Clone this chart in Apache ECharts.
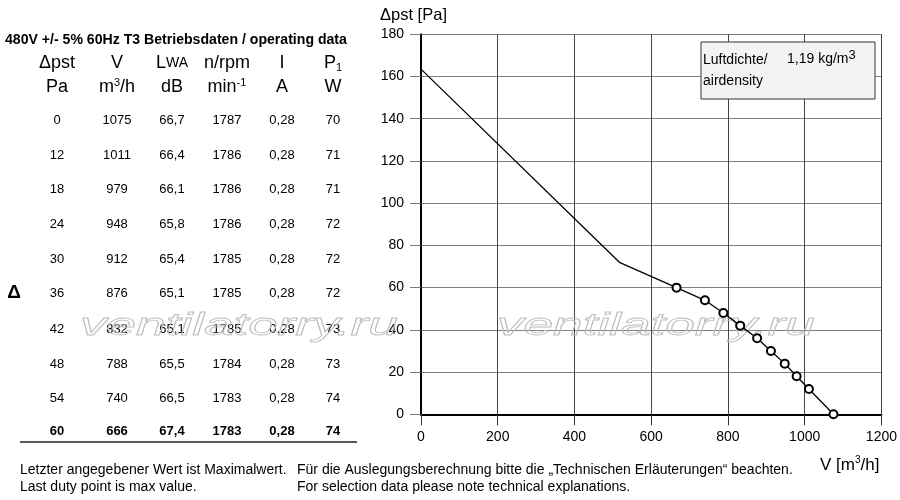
<!DOCTYPE html>
<html>
<head>
<meta charset="utf-8">
<script src="https://cdn.jsdelivr.net/npm/echarts@6/dist/echarts.min.js"></script>
<style>
  html, body { margin: 0; padding: 0; background: #fff; }
  #main { width: 900px; height: 500px; }
</style>
</head>
<body>
<div id="main"></div>
<script>
// operating data table (one entry per duty point)
let pressure = [0, 12, 18, 24, 30, 36, 42, 48, 54, 60];
let flow = [1075, 1011, 979, 948, 912, 876, 832, 788, 740, 666];
let lwa = ['66,7', '66,4', '66,1', '65,8', '65,4', '65,1', '65,1', '65,5', '66,5', '67,4'];
let rpm = [1787, 1786, 1786, 1786, 1785, 1785, 1785, 1784, 1783, 1783];
let current = ['0,28', '0,28', '0,28', '0,28', '0,28', '0,28', '0,28', '0,28', '0,28', '0,28'];
let power = [70, 71, 71, 72, 72, 72, 73, 73, 74, 74];

// curve part left of the last duty point (no markers)
let headFlow = [0, 517];
let headPressure = [163.5, 72];

let xTicks = [0, 200, 400, 600, 800, 1000, 1200];
let yTicks = [0, 20, 40, 60, 80, 100, 120, 140, 160, 180];

let font = 'Liberation Sans, Arial, sans-serif';
let chart = echarts.init(document.getElementById('main'));

let curve = [];
for (let i = 0; i < headFlow.length; i++) {
  curve.push({ value: [headFlow[i], headPressure[i]], symbol: 'none' });
}
for (let i = flow.length - 1; i >= 0; i--) {
  curve.push({ value: [flow[i], pressure[i]] });
}

// table text
let colX = [57, 117, 172, 227, 282, 333];
let rowY = [120, 155, 189, 224, 259, 293, 329, 364, 398, 431];
let graphics = [];

function txt(x, y, text, size, extra) {
  let el = {
    type: 'text',
    x: x,
    y: y,
    style: Object.assign({
      text: text,
      font: size + 'px ' + font,
      fill: '#000',
      align: 'center',
      verticalAlign: 'middle'
    }, extra || {})
  };
  graphics.push(el);
  return el;
}

txt(5, 40, '480V +/- 5% 60Hz T3 Betriebsdaten / operating data', 14.1, { align: 'left', font: 'bold 14.1px ' + font });

let head1 = ['Δpst', 'V', '{a|L}{b|WA}', 'n/rpm', 'I', '{a|P}{s|1}'];
let head2 = ['Pa', '{a|m}{p|3}{a|/h}', 'dB', '{a|min}{p|-1}', 'A', 'W'];
let rich = {
  a: { fontSize: 18, fontFamily: font },
  b: { fontSize: 14, fontFamily: font },
  s: { fontSize: 11, fontFamily: font, padding: [9, 0, 0, 0] },
  p: { fontSize: 11, fontFamily: font, padding: [0, 0, 9, 0] }
};
for (let c = 0; c < colX.length; c++) {
  txt(colX[c], 63, head1[c], 18, { rich: rich });
  txt(colX[c], 87, head2[c], 18, { rich: rich });
}

let cols = [pressure, flow, lwa, rpm, current, power];
for (let r = 0; r < pressure.length; r++) {
  let last = r === pressure.length - 1;
  for (let c = 0; c < cols.length; c++) {
    txt(colX[c], rowY[r], String(cols[c][r]), 13,
      last ? { font: 'bold 13px ' + font } : {});
  }
}
txt(14, 293, 'Δ', 19, { font: 'bold 19px ' + font });

graphics.push({
  type: 'line',
  shape: { x1: 20, y1: 442, x2: 357, y2: 442 },
  style: { stroke: '#222', lineWidth: 1.5 }
});

// footer notes
txt(20, 470, 'Letzter angegebener Wert ist Maximalwert.', 14, { align: 'left' });
txt(20, 487, 'Last duty point is max value.', 14, { align: 'left' });
txt(297, 470, 'Für die Auslegungsberechnung bitte die „Technischen Erläuterungen“ beachten.', 14, { align: 'left' });
txt(297, 487, 'For selection data please note technical explanations.', 14, { align: 'left' });

// axis names
txt(380, 15, 'Δpst [Pa]', 16.5, { align: 'left' });
txt(820, 465, '{a|V [m}{p|3}{a|/h]}', 17, {
  align: 'left',
  rich: {
    a: { fontSize: 17, fontFamily: font },
    p: { fontSize: 10, fontFamily: font, padding: [0, 0, 9, 0] }
  }
});

// air density box
graphics.push({
  type: 'rect',
  shape: { x: 701, y: 42, width: 174, height: 57 },
  style: { fill: '#f3f3f3', stroke: '#333', lineWidth: 1 },
  z: 50
});
let boxText = [
  txt(703, 60, 'Luftdichte/', 14, { align: 'left' }),
  txt(787, 59, '{a|1,19 kg/m}{p|3}', 14, {
    align: 'left',
    rich: {
      a: { fontSize: 14, fontFamily: font },
      p: { fontSize: 13, fontFamily: font, padding: [0, 0, 8, 0] }
    }
  }),
  txt(703, 81, 'airdensity', 14, { align: 'left' })
];
boxText.forEach(function (el) { el.z = 51; });

// watermark
[[80, 326], [497, 326]].forEach(function (p) {
  graphics.push({
    type: 'text',
    x: p[0],
    y: p[1],
    scaleX: 1.66,
    z: 1,
    style: {
      text: 'ventilatorry.ru',
      font: 'italic 32px ' + font,
      fill: 'rgba(255,255,255,0)',
      stroke: '#bdbdbd',
      lineWidth: 0.8,
      verticalAlign: 'middle'
    }
  });
});

let option = {
  animation: false,
  grid: { left: 421, right: 18.5, top: 34.3, bottom: 85.7 },
  xAxis: {
    type: 'value',
    min: xTicks[0],
    max: xTicks[xTicks.length - 1],
    interval: 200,
    axisLine: { show: true, onZero: false, lineStyle: { color: '#000', width: 2 } },
    axisTick: { show: true, length: 11, lineStyle: { color: '#333' } },
    axisLabel: { color: '#000', fontSize: 14, fontFamily: font, margin: 16, formatter: function (v) { return String(v); } },
    splitLine: { show: true, lineStyle: { color: '#444', width: 1 } }
  },
  yAxis: {
    type: 'value',
    min: yTicks[0],
    max: yTicks[yTicks.length - 1],
    interval: 20,
    axisLine: { show: true, lineStyle: { color: '#000', width: 2 } },
    axisTick: { show: true, length: 11, lineStyle: { color: '#777' } },
    axisLabel: { color: '#000', fontSize: 14, fontFamily: font, margin: 17, formatter: function (v) { return String(v); } },
    splitLine: { show: true, lineStyle: { color: '#808080', width: 1 } }
  },
  series: [
    {
      type: 'line',
      data: curve,
      symbol: 'emptyCircle',
      symbolSize: 8,
      itemStyle: { color: '#000', borderColor: '#000', borderWidth: 1 },
      lineStyle: { color: '#000', width: 1.3 },
      z: 10
    }
  ],
  graphic: graphics
};

chart.setOption(option);
</script>
</body>
</html>
